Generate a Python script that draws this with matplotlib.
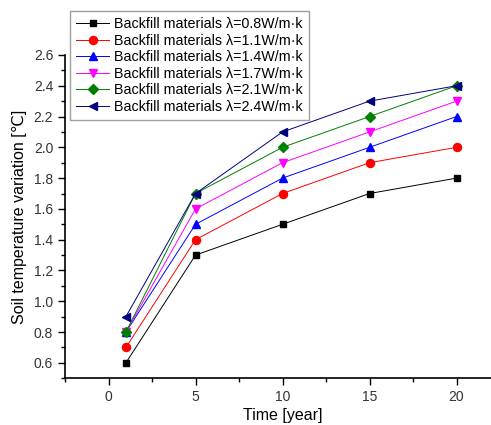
import matplotlib
matplotlib.use("Agg")
import matplotlib.pyplot as plt
from matplotlib.ticker import MultipleLocator

plt.rcParams['font.family'] = ['Liberation Sans', 'DejaVu Sans']

years = [1, 5, 10, 15, 20]
lambdas = ["0.8", "1.1", "1.4", "1.7", "2.1", "2.4"]
temp_08 = [0.6, 1.3, 1.5, 1.7, 1.8]
temp_11 = [0.7, 1.4, 1.7, 1.9, 2.0]
temp_14 = [0.8, 1.5, 1.8, 2.0, 2.2]
temp_17 = [0.8, 1.6, 1.9, 2.1, 2.3]
temp_21 = [0.8, 1.7, 2.0, 2.2, 2.4]
temp_24 = [0.9, 1.7, 2.1, 2.3, 2.4]

series = [temp_08, temp_11, temp_14, temp_17, temp_21, temp_24]
colors = ["black", "red", "blue", "magenta", "#008000", "#000080"]
markers = ["s", "o", "^", "v", "D", "<"]
msizes = [4.8, 5.8, 5.8, 5.8, 4.8, 5.8]

fig = plt.figure(figsize=(4.91, 4.25), dpi=100)
ax = fig.add_axes([0.1324, 0.110, 0.886, 0.7607])

for vals, lam, c, m, ms in zip(series, lambdas, colors, markers, msizes):
    ax.plot(years, vals, color=c, marker=m, markersize=ms, linewidth=0.7,
            label="Backfill materials \u03bb=" + lam + "W/m\u00b7k")

ax.set_xlim(-2.5, 22.5)
ax.set_ylim(0.5, 2.6)
ax.xaxis.set_minor_locator(MultipleLocator(2.5))
ax.yaxis.set_minor_locator(MultipleLocator(0.1))
ax.set_yticks([0.6, 0.8, 1.0, 1.2, 1.4, 1.6, 1.8, 2.0, 2.2, 2.4, 2.6])
ax.set_xticks([0, 5, 10, 15, 20])
ax.spines['top'].set_visible(False)
ax.spines['right'].set_visible(False)
ax.spines['left'].set_linewidth(1.2)
ax.spines['bottom'].set_linewidth(1.2)
ax.tick_params(which='major', direction='out', length=5, width=1, labelsize=10, colors='black')
ax.tick_params(which='minor', direction='out', length=3, width=1)
for lab in ax.get_xticklabels() + ax.get_yticklabels():
    lab.set_color('#333333')

ax.set_xlabel("Time [year]", fontsize=11.5, labelpad=3)
ax.set_ylabel("Soil temperature variation [\u2103]", fontsize=11.5, labelpad=5)

leg = fig.legend(loc='upper left', bbox_to_anchor=(70 / 491, 1 - 11 / 425),
                 fontsize=10.3, frameon=True, fancybox=False, edgecolor='#888888',
                 handlelength=2.3, borderpad=0.45, labelspacing=0.17,
                 handletextpad=0.3, borderaxespad=0)
leg.get_frame().set_linewidth(1.0)

fig.savefig("out.png", dpi=100)
